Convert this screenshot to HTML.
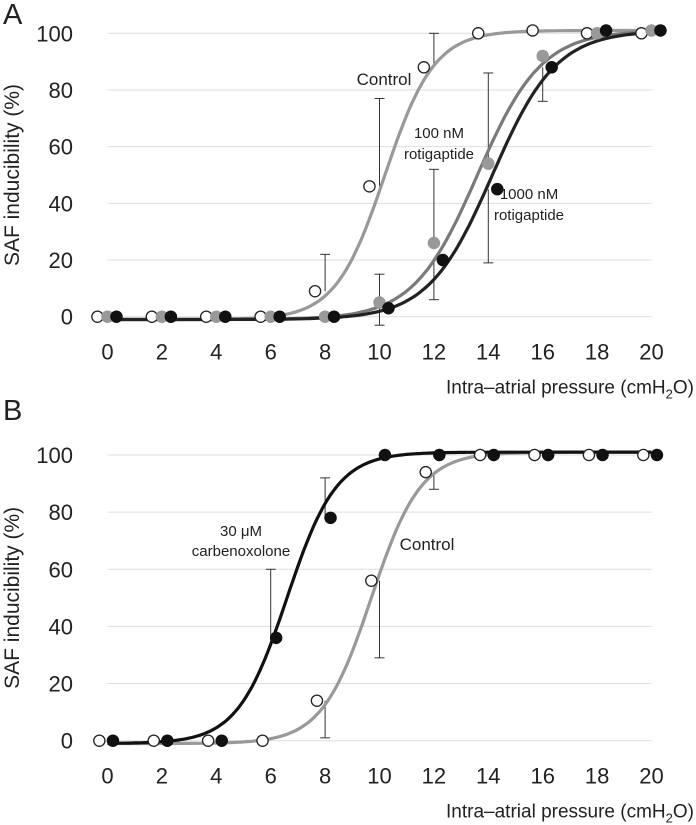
<!DOCTYPE html>
<html><head><meta charset="utf-8"><style>
body{margin:0;background:#fff}
svg{display:block;font-family:"Liberation Sans",sans-serif}
</style></head><body>
<svg id="chart" width="696" height="825" viewBox="0 0 696 825" xmlns="http://www.w3.org/2000/svg"></svg>
<script>
const xVals=[0,2,4,6,8,10,12,14,16,18,20];
const xTicks=["0","2","4","6","8","10","12","14","16","18","20"];
const yTicks=[0,20,40,60,80,100];
// Panel A
const aControl=[0,0,0,0,9,46,88,100,101,100,100];
const aRoti100=[0,0,0,0,0,5,26,54,92,100,101];
const aRoti1000=[0,0,0,0,0,3,20,45,88,101,101];
const aControlUp=[null,null,null,null,22,77,100,null,null,null,null];
const aRoti100Up=[null,null,null,null,null,15,52,86,null,null,null];
const aRoti1000Lo=[null,null,null,null,null,-3,6,19,76,null,null];
const aFitMid=[10.2,13.6,14.15];
const aFitK=[1.1,0.85,0.85];
// Panel B
const bControl=[0,0,0,0,14,56,94,100,100,100,100];
const bCarb=[0,0,0,36,78,100,100,100,100,100,100];
const bControlLo=[null,null,null,null,1,29,88,null,null,null,null];
const bCarbUp=[null,null,null,60,92,null,null,null,null,null,null];
const bFitMid=[9.7,6.6];
const bFitK=[1.1,1.1];

const NS="http://www.w3.org/2000/svg";
const svg=document.getElementById('chart');
function mk(tag,attrs,parent){const e=document.createElementNS(NS,tag);for(const k in attrs)e.setAttribute(k,attrs[k]);(parent||svg).appendChild(e);return e;}
function txt(s,attrs,parent){const e=mk('text',attrs,parent);e.textContent=s;return e;}

function panel(id,y100,y0,labelY,label){
  const g=mk('g',{});
  
  
  const X=v=>107.5+v*(651.5-107.5)/20;
  const Y=v=>y0+v*(y100-y0)/100;
  const pl=txt(label,{x:3,y:labelY,'font-size':29,fill:'#222'},g);
  
  
  yTicks.forEach(t=>{
    const l=mk('line',{x1:X(0),x2:X(20),y1:Y(t),y2:Y(t),stroke:'#ddd','stroke-width':1},g);
    
    
    const tl=txt(String(t),{x:73,y:Y(t)+8,'text-anchor':'end','font-size':22,fill:'#222'},g);
    
    
  });
  xVals.forEach((v,i)=>{
    const tl=txt(xTicks[i],{x:X(v),y:Y(0)+43,'text-anchor':'middle','font-size':22,fill:'#222'},g);
    
    
  });
  const yt=txt('SAF inducibility (%)',{transform:`translate(19,${(Y(50))}) rotate(-90)`,'text-anchor':'middle','font-size':21,fill:'#222'},g);
  
  
  const xt=mk('text',{x:694,y:Y(0)+77,'text-anchor':'end','font-size':19,fill:'#222'},g);
  xt.innerHTML='Intra\u2013atrial pressure (cmH<tspan font-size="13" dy="5">2</tspan><tspan dy="-5">O)</tspan>';
  
  
  return {g,X,Y};
}
function curve(p,mid,k,color,name){
  let d='';
  for(let i=0;i<=200;i++){const x=i/10;const y=-1+102/(1+Math.exp(-k*(x-mid)));d+=(i?'L':'M')+p.X(x).toFixed(1)+','+p.Y(y).toFixed(1);}
  const e=mk('path',{d,fill:'none',stroke:color,'stroke-width':3.2},p.g);
  
  
}
function errs(p,vals,ends,off,name){
  vals.forEach((v,i)=>{
    if(ends[i]===null)return;
    const x=p.X(xVals[i]+off);
    const e=mk('g',{},p.g);
    
    
    mk('line',{x1:x,x2:x,y1:p.Y(v),y2:p.Y(ends[i]),stroke:'#333','stroke-width':1},e);
    mk('line',{x1:x-5,x2:x+5,y1:p.Y(ends[i]),y2:p.Y(ends[i]),stroke:'#333','stroke-width':1},e);
  });
}
function points(p,vals,off,fill,stroke,name){
  vals.forEach((v,i)=>{
    const c=mk('circle',{cx:p.X(xVals[i]+off),cy:p.Y(v),r:5.6,fill,stroke,'stroke-width':1.3},p.g);
    
    
  });
}
function label(p,lines,x,ys,size,name){
  const t=txt('',{'font-size':size,fill:'#222','text-anchor':'middle'},p.g);
  lines.forEach((s,i)=>{const ts=mk('tspan',{x,y:ys[i]},t);ts.textContent=s;});
  
  
}

// Panel A
const A=panel('a',33.3,316.7,24,'A');
errs(A,aControl,aControlUp,0,'error-bar-control');
errs(A,aRoti100,aRoti100Up,0,'error-bar-100nm');
errs(A,aRoti1000,aRoti1000Lo,0,'error-bar-1000nm');
curve(A,aFitMid[0],aFitK[0],'#999','fit-curve-control');
curve(A,aFitMid[1],aFitK[1],'#7a7a7a','fit-curve-100nm');
curve(A,aFitMid[2],aFitK[2],'#222','fit-curve-1000nm');
points(A,aControl,-0.37,'#fff','#222','point-control');
points(A,aRoti100,0,'#999','#999','point-100nm');
points(A,aRoti1000,0.33,'#111','#111','point-1000nm');
label(A,['Control'],384,[85],17,'label-control');
label(A,['100 nM','rotigaptide'],439,[138,159],15,'label-100nm-rotigaptide');
label(A,['1000 nM','rotigaptide'],529,[199,220],15,'label-1000nm-rotigaptide');

// Panel B
const B=panel('b',455,740.7,420,'B');
errs(B,bControl,bControlLo,0,'error-bar-control');
errs(B,bCarb,bCarbUp,0,'error-bar-carbenoxolone');
curve(B,bFitMid[0],bFitK[0],'#999','fit-curve-control');
curve(B,bFitMid[1],bFitK[1],'#111','fit-curve-carbenoxolone');
points(B,bControl,-0.3,'#fff','#222','point-control');
points(B,bCarb,0.2,'#111','#111','point-carbenoxolone');
label(B,['30 \u03bcM','carbenoxolone'],241,[536,556],15,'label-carbenoxolone');
label(B,['Control'],427,[550],17,'label-control');
</script>
</body></html>
